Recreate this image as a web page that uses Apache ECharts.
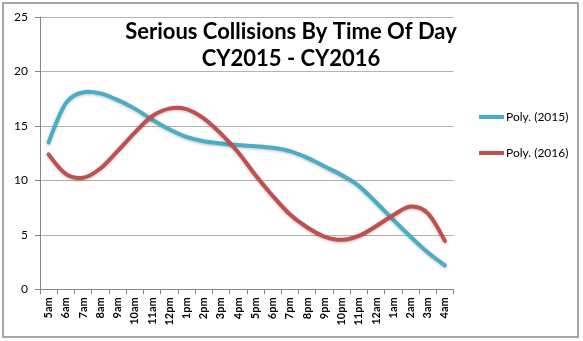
<!DOCTYPE html>
<html>
<head>
<meta charset="utf-8">
<script src="https://cdn.jsdelivr.net/npm/echarts@6/dist/echarts.min.js"></script>
<style>
  html, body { margin: 0; padding: 0; background: #ffffff; }
  #chart { width: 583px; height: 341px; }
</style>
</head>
<body>
<div id="chart"></div>
<script>
// Hours of the day, starting at 5am
const hours = ['5am', '6am', '7am', '8am', '9am', '10am', '11am', '12pm', '1pm', '2pm', '3pm', '4pm',
  '5pm', '6pm', '7pm', '8pm', '9pm', '10pm', '11pm', '12am', '1am', '2am', '3am', '4am'];

// Polynomial trend values per hour
const poly2015 = [13.5, 17.1, 18.1, 18.0, 17.4, 16.6, 15.6, 14.7, 14.0, 13.6, 13.4, 13.25,
  13.15, 13.0, 12.7, 12.1, 11.3, 10.5, 9.5, 8.0, 6.4, 4.85, 3.4, 2.2];
const poly2016 = [12.4, 10.6, 10.25, 11.1, 12.7, 14.4, 15.9, 16.6, 16.55, 15.7, 14.3, 12.6,
  10.5, 8.6, 6.9, 5.7, 4.85, 4.55, 4.9, 5.8, 6.8, 7.6, 7.0, 4.45];

const yTicks = { min: 0, max: 25, interval: 5 };

const chart = echarts.init(document.getElementById('chart'), null, { renderer: 'canvas' });

// Cubic Hermite spline through the hourly points (natural-style end tangents),
// with every point mapped through the chart's own axes
function splinePath(api, values) {
  const pts = values.map((v, i) => api.coord([i, v]));
  const n = pts.length;
  const tan = [];
  for (let i = 1; i < n - 1; i++) {
    tan[i] = [(pts[i + 1][0] - pts[i - 1][0]) / 2, (pts[i + 1][1] - pts[i - 1][1]) / 2];
  }
  tan[0] = [
    (3 * (pts[1][0] - pts[0][0]) - tan[1][0]) / 2,
    (3 * (pts[1][1] - pts[0][1]) - tan[1][1]) / 2
  ];
  tan[n - 1] = [
    (3 * (pts[n - 1][0] - pts[n - 2][0]) - tan[n - 2][0]) / 2,
    (3 * (pts[n - 1][1] - pts[n - 2][1]) - tan[n - 2][1]) / 2
  ];
  let d = 'M' + pts[0][0] + ',' + pts[0][1];
  for (let i = 0; i < n - 1; i++) {
    const p1 = pts[i], p2 = pts[i + 1];
    const c1x = p1[0] + tan[i][0] / 3;
    const c1y = p1[1] + tan[i][1] / 3;
    const c2x = p2[0] - tan[i + 1][0] / 3;
    const c2y = p2[1] - tan[i + 1][1] / 3;
    d += ' C' + c1x + ',' + c1y + ' ' + c2x + ',' + c2y + ' ' + p2[0] + ',' + p2[1];
  }
  return d;
}

const trendSeries = (name, values, color) => ({
  name: name,
  type: 'custom',
  data: [[0, values[0]]],
  itemStyle: { color: color },
  renderItem: function (params, api) {
    return {
      type: 'path',
      shape: { pathData: splinePath(api, values) },
      style: {
        fill: 'none',
        stroke: color,
        lineWidth: 4,
        lineCap: 'round',
        lineJoin: 'round',
        shadowColor: 'rgba(0,0,0,0.25)',
        shadowBlur: 3,
        shadowOffsetY: 1
      },
      silent: true
    };
  }
});

chart.setOption({
  animation: false,
  backgroundColor: '#ffffff',
  title: {
    text: 'Serious Collisions By Time Of Day\nCY2015 - CY2016',
    left: 286,
    top: 13,
    textAlign: 'center',
    textStyle: {
      fontFamily: 'Lato',
      fontWeight: 'bold',
      fontSize: 22,
      lineHeight: 27,
      color: '#000000'
    }
  },
  legend: {
    orient: 'vertical',
    left: 474,
    top: 106,
    itemGap: 24,
    itemWidth: 25,
    itemHeight: 4,
    icon: 'rect',
    textStyle: { fontFamily: 'Lato', fontSize: 12, color: '#000000', padding: [0, 0, 0, -3] },
    data: [
      { name: 'Poly. (2015)', itemStyle: { color: '#4bacc6' } },
      { name: 'Poly. (2016)', itemStyle: { color: '#c0504d' } }
    ]
  },
  grid: { left: 40, right: 129.5, top: 17.2, bottom: 51.7, containLabel: false },
  xAxis: {
    type: 'category',
    data: hours,
    boundaryGap: true,
    axisLine: { show: true, lineStyle: { color: '#868686', width: 1 } },
    axisTick: { show: true, alignWithLabel: false, length: 5, lineStyle: { color: '#868686' } },
    axisLabel: {
      rotate: 90,
      interval: 0,
      margin: 8,
      fontFamily: 'Lato',
      fontWeight: 'bold',
      fontSize: 11,
      color: '#000000'
    },
    splitLine: { show: false }
  },
  yAxis: {
    type: 'value',
    min: yTicks.min,
    max: yTicks.max,
    interval: yTicks.interval,
    axisLine: { show: true, lineStyle: { color: '#868686', width: 1 } },
    axisTick: { show: true, length: 5, lineStyle: { color: '#868686' } },
    axisLabel: { margin: 12, fontFamily: 'Lato', fontSize: 12, color: '#000000' },
    splitLine: { show: true, lineStyle: { color: '#b3b3b3', width: 1 } }
  },
  graphic: [{
    type: 'rect',
    shape: { x: 3, y: 3, width: 575, height: 334 },
    style: { fill: 'none', stroke: '#8a8a8a', lineWidth: 1.5 },
    silent: true,
    z: 100
  }],
  series: [
    trendSeries('Poly. (2015)', poly2015, '#4bacc6'),
    trendSeries('Poly. (2016)', poly2016, '#c0504d')
  ]
});
</script>
</body>
</html>
